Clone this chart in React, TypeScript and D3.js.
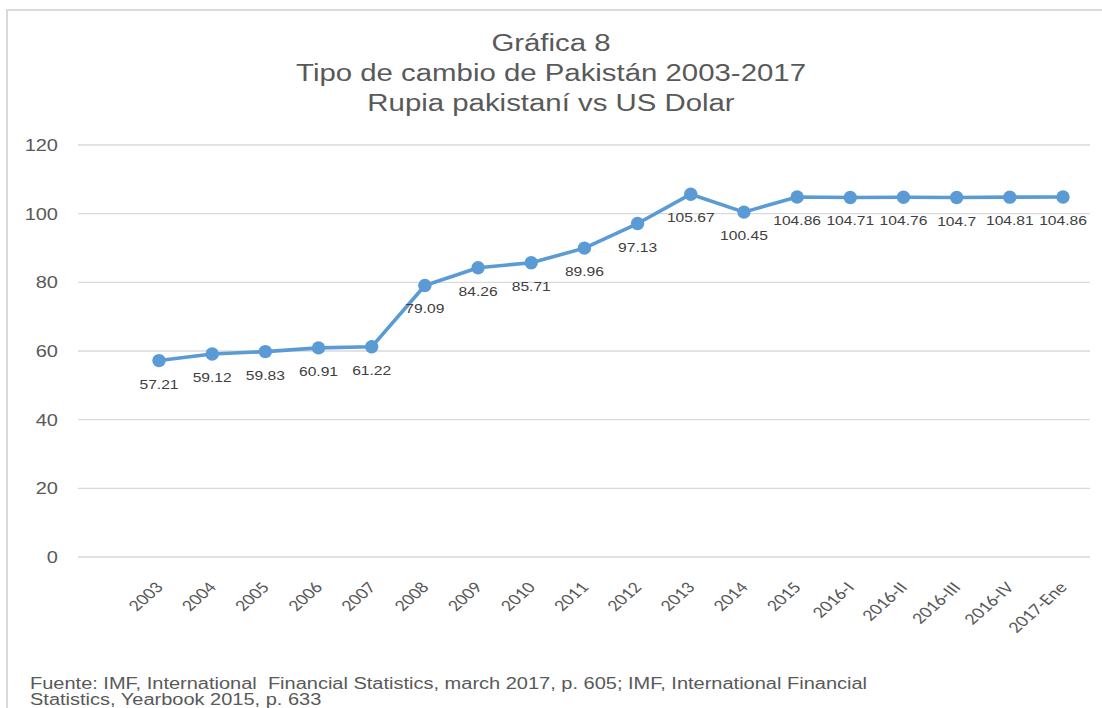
import React from "react";
import * as d3 from "d3";

const categories = ["2003","2004","2005","2006","2007","2008","2009","2010","2011","2012","2013","2014","2015","2016-I","2016-II","2016-III","2016-IV","2017-Ene"];
const values = [57.21,59.12,59.83,60.91,61.22,79.09,84.26,85.71,89.96,97.13,105.67,100.45,104.86,104.71,104.76,104.7,104.81,104.86];
const yTicks = [0,20,40,60,80,100,120];
const titleLines = ["Gráfica 8","Tipo de cambio de Pakistán 2003-2017","Rupia pakistaní vs US Dolar"];
const footerLines = ["Fuente: IMF, International  Financial Statistics, march 2017, p. 605; IMF, International Financial","Statistics, Yearbook 2015, p. 633"];

const W = 1102, H = 708;
const gridLeft = 78, gridRight = 1090;
const firstX = 159, lastX = 1063;
const SX = 1.25;
const font = "'Liberation Sans', Arial, sans-serif";

function T(props: { x: number; y: number; anchor?: string; size: number; fill: string; family?: string; rotate?: number; children: React.ReactNode }) {
  const { x, y, anchor = "start", size, fill, family = font, rotate = 0, children } = props;
  return (
    <text transform={`translate(${x},${y}) scale(${SX},1)${rotate ? ` rotate(${rotate})` : ""}`} textAnchor={anchor} fontFamily={family} fontSize={size} fill={fill} style={{ whiteSpace: "pre" }}>{children}</text>
  );
}

export default function App() {
  const x = d3.scalePoint<string>().domain(categories).range([firstX, lastX]);
  const y = d3.scaleLinear().domain([0, 120]).range([557, 145]);
  const line = d3.line<number>().x((_, i) => x(categories[i])!).y(d => y(d));
  return (
    <svg width={W} height={H} style={{ position: "absolute", left: 0, top: 0, background: "#fff" }}>
      <rect x={7} y={10} width={1200} height={800} fill="#fff" stroke="#d9d9d9" strokeWidth={2} />
      {titleLines.map((t, i) => (
        <T key={t} x={551} y={51 + i * 30} anchor="middle" size={23.5} fill="#595959">{t}</T>
      ))}
      {yTicks.map(v => (
        <g key={v}>
          <line x1={gridLeft} x2={gridRight} y1={y(v)} y2={y(v)} stroke="#d9d9d9" strokeWidth={1.3} />
          <T x={58} y={y(v) + 6} anchor="end" size={16} fill="#595959">{v}</T>
        </g>
      ))}
      {categories.map(c => (
        <T key={c} x={x(c)! + 5} y={588} anchor="end" size={16} fill="#595959" family="Carlito, 'Open Sans', sans-serif" rotate={-48}>{c}</T>
      ))}
      <path d={line(values) || ""} fill="none" stroke="#5b9bd5" strokeWidth={3.6} strokeLinejoin="round" />
      {values.map((v, i) => (
        <circle key={i} cx={x(categories[i])!} cy={y(v)} r={6.7} fill="#5b9bd5" />
      ))}
      {values.map((v, i) => (
        <T key={"l" + i} x={x(categories[i])!} y={y(v) + 28} anchor="middle" size={12.5} fill="#404040">{String(v)}</T>
      ))}
      {footerLines.map((t, i) => (
        <T key={i} x={30} y={689 + i * 16} size={16} fill="#595959">{t}</T>
      ))}
    </svg>
  );
}
